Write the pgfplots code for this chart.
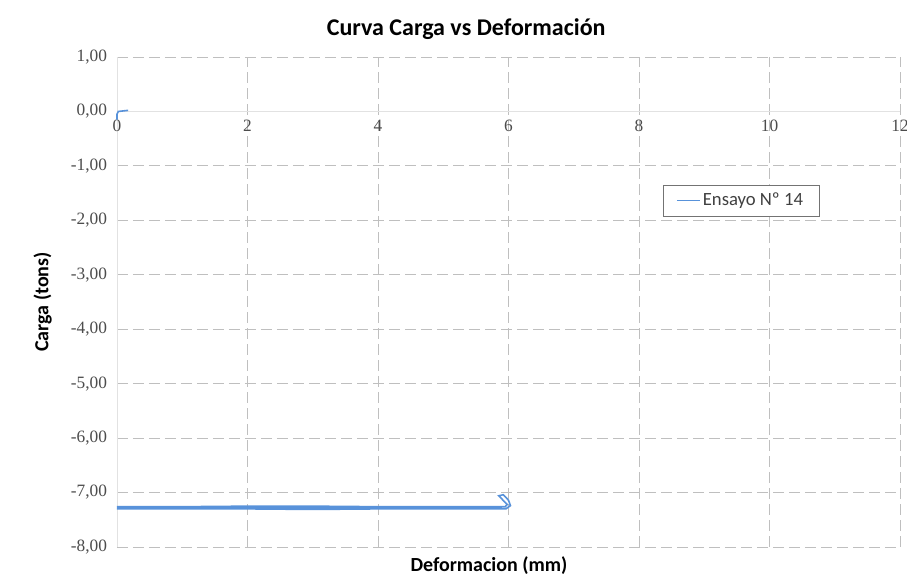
\documentclass[border=0pt]{standalone}
\usepackage{pgfplots}
\pgfplotsset{compat=1.18}
\usepackage{fontspec}
\setmainfont{Carlito}
\newfontfamily\tickfont{Liberation Serif}
\definecolor{serie}{RGB}{88,146,218}
\definecolor{grid}{RGB}{226,226,226}

\begin{document}
\begin{tikzpicture}
% frame of the whole picture (907 x 584 px at 0.75pt/px)
\path[use as bounding box] (-87.75pt,-27.75pt) rectangle (592.5pt,410.25pt);
\begin{axis}[
    at={(0pt,0pt)}, anchor=south west,
    scale only axis,
    width=587.25pt, height=367.5pt,
    xmin=0, xmax=12, ymin=-8, ymax=1,
    xtick={0,2,...,12}, ytick={-8,-7,...,1},
    axis x line*=middle, axis y line*=left,
    hide obscured x ticks=false,
    axis line style={grid, line width=0.6pt},
    x axis line style={-}, y axis line style={-},
    major tick length=0pt,
    grid=major,
    major grid style={grid, dash pattern=on 8pt off 4pt, line width=0.6pt},
    tick label style={font=\tickfont\fontsize{13}{14}\selectfont, text=black!70},
    /pgf/number format/assume math mode=true,
    yticklabel style={xshift=-4pt, /pgf/number format/.cd, fixed, fixed zerofill, precision=2, use comma},
    xticklabel style={yshift=-3pt, /pgf/number format/.cd, fixed, precision=0},
    title={\bfseries Curva Carga vs Deformación},
    title style={font=\fontsize{18}{20}\selectfont, at={(axis description cs:0.446,1.01)}, anchor=south},
    xlabel={\bfseries Deformacion (mm)},
    xlabel style={at={(axis description cs:0.475,-0.01)}, anchor=north, font=\fontsize{15}{17}\selectfont},
    ylabel={\bfseries Carga (tons)},
    ylabel style={at={(axis description cs:-0.095,0.5)}, anchor=center, font=\fontsize{15}{17}\selectfont},
    legend style={at={(axis description cs:0.697,0.739)}, anchor=north west,
        draw=black!55, font=\fontsize{14}{16}\selectfont, text=black!75,
        inner xsep=10pt, inner ysep=4pt},
    legend image post style={line width=0.8pt},
    legend cell align=left,
    unbounded coords=jump,
    clip=false,
]
\addplot[serie, line width=1.2pt] coordinates {
    (0.17,0.02) (0.02,0.0) (0.0,-0.05) (0.0,-0.15)
    (nan,nan)
    (0.0,-7.26) (1.0,-7.26) (2.0,-7.25) (3.0,-7.25) (4.0,-7.26) (5.0,-7.26) (5.95,-7.26)
    (5.98,-7.22) (5.9,-7.12) (5.85,-7.06) (5.92,-7.04) (6.0,-7.14) (6.03,-7.24)
    (5.96,-7.3) (5.0,-7.3) (4.0,-7.3) (3.0,-7.31) (2.0,-7.3) (1.0,-7.3) (0.0,-7.3)
};
\addlegendentry{Ensayo Nº 14}
\addplot[serie, line width=1.2pt, forget plot] coordinates {
    (0.0,-7.28) (2.0,-7.28) (4.0,-7.28) (5.9,-7.28)
};
\end{axis}
\end{tikzpicture}
\end{document}
